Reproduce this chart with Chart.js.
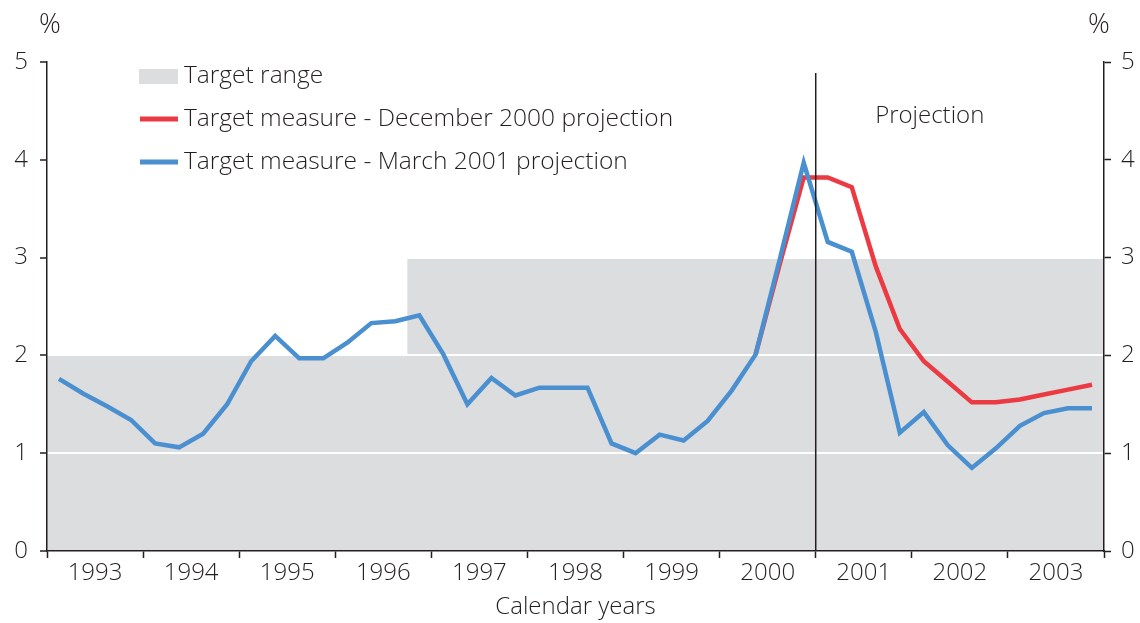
<!DOCTYPE html>
<html>
<head>
<meta charset="utf-8">
<script src="https://cdn.jsdelivr.net/npm/chart.js@4.4.0/dist/chart.umd.min.js"></script>
<style>
  html, body { margin: 0; padding: 0; background: #fff; }
  #wrap { position: relative; width: 1140px; height: 623px; }
</style>
</head>
<body>
<div id="wrap"><canvas id="chart" width="1140" height="623"></canvas></div>
<script>
// year labels, one per 4 quarters (1993 Q1 .. 2003 Q4)
const yearLabels = ['1993', '1994', '1995', '1996', '1997', '1998', '1999', '2000', '2001', '2002', '2003'];

// March 2001 projection, quarterly
const marchProjection = [
  1.76, 1.61, 1.48, 1.34, 1.10, 1.06, 1.20, 1.50,
  1.94, 2.20, 1.97, 1.97, 2.13, 2.33, 2.35, 2.41,
  2.01, 1.50, 1.77, 1.59, 1.67, 1.67, 1.67, 1.10,
  1.00, 1.19, 1.13, 1.33, 1.64, 2.01, 2.98, 3.97,
  3.16, 3.06, 2.24, 1.21, 1.42, 1.08, 0.85, 1.05,
  1.28, 1.41, 1.46, 1.46
];

// December 2000 projection (only visible where it departs from the March line)
const decemberProjection = [
  null, null, null, null, null, null, null, null,
  null, null, null, null, null, null, null, null,
  null, null, null, null, null, null, null, null,
  null, null, null, null, null, 2.01, 2.93, 3.82,
  3.82, 3.72, 2.91, 2.27, 1.94, 1.73, 1.52, 1.52,
  1.55, 1.60, 1.65, 1.70
];

// target range: 0-2% until late 1996, then 0-3% (x in quarters from start of 1993)
const targetRangeEdges = [0, 15, 15, 44];
const targetRangeUpper = [2, 2, 3, 3];

// projection starts with 2001 Q1
const projectionStart = 32;

const FONT = "'Open Sans', 'Noto Sans', sans-serif";
const TEXT = '#231f20';
const SIZE = 24;

const toPoints = (vals) => vals.map((v, i) => ({ x: i + 0.5, y: v }));

// vertical projection marker, labels and legend
const overlay = {
  id: 'overlay',
  afterDatasetsDraw(chart) {
    const { ctx, chartArea, scales } = chart;
    const px = scales.x.getPixelForValue(projectionStart);
    ctx.save();
    ctx.strokeStyle = '#231f20';
    ctx.lineWidth = 1.5;
    ctx.beginPath();
    ctx.moveTo(px, chartArea.top + 11);
    ctx.lineTo(px, chartArea.bottom);
    ctx.stroke();

    ctx.fillStyle = TEXT;
    ctx.textAlign = 'center';
    ctx.textBaseline = 'middle';
    ctx.font = `300 ${SIZE}px ${FONT}`;
    ctx.fillText('Projection', px + 114, 116);
    ctx.font = `300 27px ${FONT}`;
    ctx.fillText('%', 50, 25);
    ctx.fillText('%', 1099, 25);

    // legend
    ctx.font = `300 24.5px ${FONT}`;
    const rows = chart.data.datasets.slice().reverse();
    rows.forEach((ds, k) => {
      const y = 76 + k * 43;
      if (ds.fill) {
        ctx.fillStyle = ds.backgroundColor;
        ctx.fillRect(139, y - 7, 39, 15);
      } else {
        ctx.strokeStyle = ds.borderColor;
        ctx.lineWidth = 5;
        ctx.beginPath();
        ctx.moveTo(140, y);
        ctx.lineTo(178, y);
        ctx.stroke();
      }
      ctx.fillStyle = TEXT;
      ctx.textAlign = 'left';
      ctx.fillText(ds.label, 184, y);
    });
    ctx.restore();
  }
};

new Chart(document.getElementById('chart'), {
  type: 'line',
  data: {
    datasets: [
      {
        label: 'Target measure - March 2001 projection',
        data: toPoints(marchProjection),
        borderColor: '#4a8fd0',
        borderWidth: 4.5,
        pointRadius: 0,
        tension: 0,
        fill: false
      },
      {
        label: 'Target measure - December 2000 projection',
        data: toPoints(decemberProjection),
        borderColor: '#ec3a43',
        borderWidth: 4.5,
        pointRadius: 0,
        tension: 0,
        fill: false
      },
      {
        label: 'Target range',
        data: targetRangeEdges.map((x, i) => ({ x, y: targetRangeUpper[i] })),
        borderWidth: 0,
        borderColor: 'rgba(0,0,0,0)',
        backgroundColor: '#dcdddf',
        pointRadius: 0,
        fill: 'origin'
      }
    ]
  },
  options: {
    responsive: false,
    animation: false,
    layout: { padding: { top: 62, left: 0, right: 0, bottom: 0 } },
    plugins: {
      legend: { display: false },
      tooltip: { enabled: false },
      filler: { drawTime: 'beforeDraw' }
    },
    scales: {
      x: {
        type: 'linear',
        min: 0,
        max: 44,
        afterFit: (s) => { s.height = 72; },
        border: { color: '#231f20', width: 1.5 },
        grid: {
          drawOnChartArea: false,
          tickLength: 7,
          tickWidth: 1.5,
          tickColor: (c) => (c.tick && c.tick.value % 4 === 0 ? '#231f20' : 'rgba(0,0,0,0)')
        },
        ticks: {
          stepSize: 2,
          autoSkip: false,
          maxRotation: 0,
          padding: 1,
          color: TEXT,
          font: { family: FONT, size: SIZE, weight: '300' },
          callback: (v) => (v % 4 === 2 ? yearLabels[(v - 2) / 4] : '')
        },
        title: {
          display: true,
          text: 'Calendar years',
          color: TEXT,
          font: { family: FONT, size: SIZE, weight: '300' },
          padding: { top: 0, bottom: 1 }
        }
      },
      y: {
        position: 'left',
        min: 0,
        max: 5,
        afterFit: (s) => { s.width = 47; },
        border: { color: '#231f20', width: 1.5 },
        grid: {
          color: (c) => (c.tick && c.tick.value > 0 && c.tick.value < 5 ? '#ffffff' : 'rgba(0,0,0,0)'),
          lineWidth: 2,
          tickLength: 7,
          tickWidth: 1.5,
          tickColor: '#231f20'
        },
        ticks: {
          stepSize: 1,
          padding: 12,
          color: TEXT,
          font: { family: FONT, size: SIZE, weight: '300' }
        }
      },
      y2: {
        position: 'right',
        min: 0,
        max: 5,
        afterFit: (s) => { s.width = 36; },
        border: { color: '#231f20', width: 1.5 },
        grid: {
          drawOnChartArea: false,
          tickLength: 7,
          tickWidth: 1.5,
          tickColor: '#231f20'
        },
        ticks: {
          stepSize: 1,
          padding: 10,
          color: TEXT,
          font: { family: FONT, size: SIZE, weight: '300' }
        }
      }
    }
  },
  plugins: [overlay]
});
</script>
</body>
</html>
